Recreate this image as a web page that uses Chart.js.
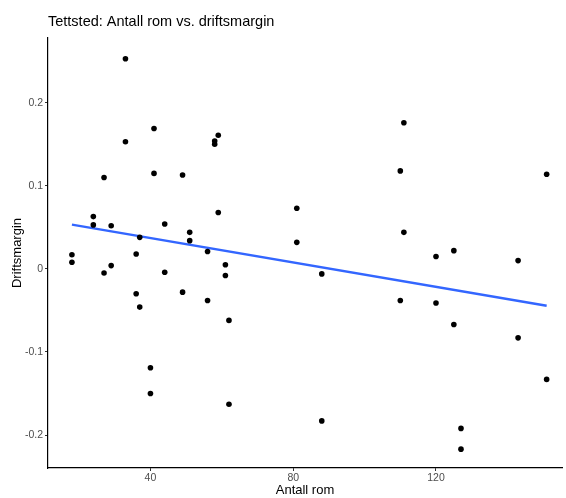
<!DOCTYPE html>
<html>
<head>
<meta charset="utf-8">
<script src="https://cdn.jsdelivr.net/npm/chart.js@4"></script>
<style>
  html, body { margin: 0; padding: 0; background: #fff; }
  #wrap { width: 566px; height: 498px; position: relative; }
</style>
</head>
<body>
<div id="wrap"><canvas id="chart"></canvas></div>
<script>
// antall rom (x) og driftsmargin (y) for hvert punkt
const antallRom = [18, 18, 24, 24, 27, 27, 29, 29, 33, 33, 36, 36, 37, 37, 40, 40, 41, 41, 44, 44,
  49, 49, 51, 51, 56, 56, 58, 58, 59, 59, 61, 61, 62, 62, 81, 81, 88, 88, 110, 110,
  111, 111, 120, 120, 125, 125, 127, 127, 143, 143, 151, 151];
const driftsmargin = [0.017, 0.008, 0.063, 0.053, 0.110, -0.005, 0.052, 0.004, 0.253, 0.153,
  0.018, -0.030, 0.038, -0.046, -0.119, -0.150, 0.169, 0.115, 0.054, -0.004,
  0.113, -0.028, 0.044, 0.034, 0.021, -0.038, 0.154, 0.150, 0.161, 0.068,
  0.005, -0.008, -0.062, -0.163, 0.073, 0.032, -0.006, -0.183, 0.118, -0.038,
  0.176, 0.044, 0.015, -0.041, 0.022, -0.067, -0.192, -0.217, 0.010, -0.083,
  0.114, -0.133];

// regresjonslinje (endepunkter lest fra figuren)
const linjeX = [18, 151];
const linjeY = [0.0533, -0.0444];

const xTicks = [40, 80, 120];
const yTicks = [-0.2, -0.1, 0, 0.1, 0.2];

const punkter = antallRom.map((x, i) => ({ x: x, y: driftsmargin[i] }));
const linje = linjeX.map((x, i) => ({ x: x, y: linjeY[i] }));

// tittel tegnes selv for å få den venstrejustert mot plottet
const tittelPlugin = {
  id: 'tittel',
  afterDraw(chart) {
    const ctx = chart.ctx;
    ctx.save();
    ctx.font = '14.5px "Liberation Sans", Arial, sans-serif';
    ctx.fillStyle = '#000';
    ctx.textBaseline = 'alphabetic';
    ctx.fillText('Tettsted: Antall rom vs. driftsmargin', chart.chartArea.left, 26);
    ctx.restore();
  }
};

new Chart(document.getElementById('chart').getContext('2d'), {
  type: 'scatter',
  data: {
    datasets: [
      {
        label: 'punkter',
        data: punkter,
        backgroundColor: '#000',
        borderColor: '#000',
        pointRadius: 2.8,
        borderWidth: 0
      },
      {
        type: 'line',
        label: 'lm',
        data: linje,
        borderColor: '#3366FF',
        borderWidth: 2.4,
        pointRadius: 0,
        fill: false
      }
    ]
  },
  options: {
    responsive: true,
    maintainAspectRatio: false,
    animation: false,
    layout: { padding: { top: 38, left: 0, right: 0, bottom: 0 } },
    plugins: {
      legend: { display: false },
      tooltip: { enabled: false }
    },
    scales: {
      x: {
        type: 'linear',
        min: 11.3,
        max: 155.3,
        afterBuildTicks: (s) => { s.ticks = xTicks.map(v => ({ value: v })); },
        afterFit: (s) => { s.height = 30; },
        grid: { drawOnChartArea: false, drawTicks: true, tickLength: 3, color: '#333' },
        border: { display: true, color: '#000', width: 1.2 },
        ticks: { color: '#4d4d4d', font: { size: 10.5, family: '"Liberation Sans", Arial, sans-serif' }, padding: 1, maxRotation: 0 },
        title: { display: true, text: 'Antall rom', color: '#000', font: { size: 13, family: '"Liberation Sans", Arial, sans-serif' }, padding: { top: 0, bottom: 0 } }
      },
      y: {
        type: 'linear',
        min: -0.2397,
        max: 0.278,
        afterBuildTicks: (s) => { s.ticks = yTicks.map(v => ({ value: v })); },
        afterFit: (s) => { s.width = 48; },
        grid: { drawOnChartArea: false, drawTicks: true, tickLength: 3, color: '#333' },
        border: { display: true, color: '#000', width: 1.2 },
        ticks: { color: '#4d4d4d', font: { size: 10.5, family: '"Liberation Sans", Arial, sans-serif' }, padding: 2 },
        title: { display: true, text: 'Driftsmargin', color: '#000', font: { size: 13, family: '"Liberation Sans", Arial, sans-serif' }, padding: { top: 10, bottom: 0 } }
      }
    }
  },
  plugins: [tittelPlugin]
});
</script>
</body>
</html>
